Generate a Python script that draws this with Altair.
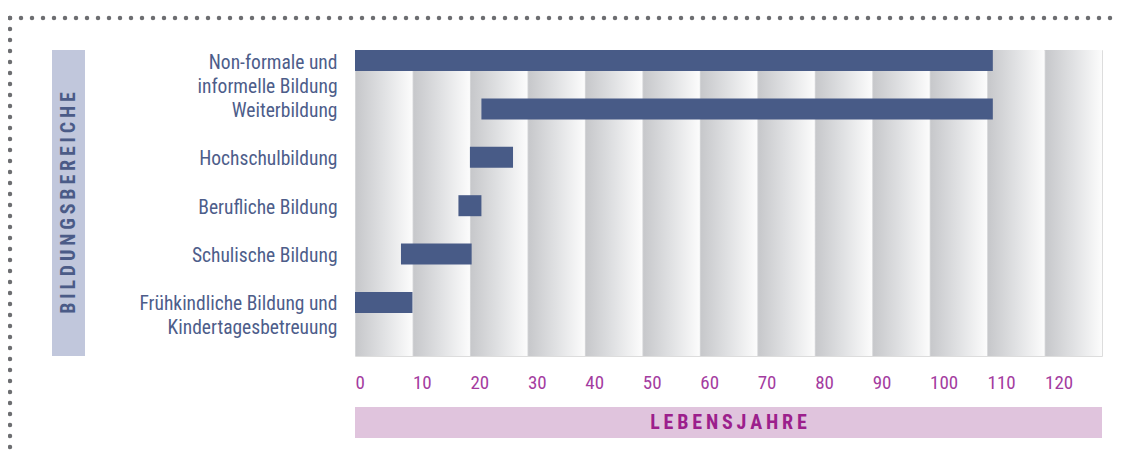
import altair as alt
import pandas as pd

# ---- data -------------------------------------------------------------
categories = [
    "Non-formale und\ninformelle Bildung",
    "Weiterbildung",
    "Hochschulbildung",
    "Berufliche Bildung",
    "Schulische Bildung",
    "Frühkindliche Bildung und\nKindertagesbetreuung",
]
age_start = [0, 22, 20, 18, 8, 0]
age_end = [111, 111, 27.5, 22, 20.3, 10]

tick_values = [0, 10, 20, 30, 40, 50, 60, 70, 80, 90, 100, 110, 120]
band_width_years = 10

y_title = "BILDUNGSBEREICHE"
x_title = "LEBENSJAHRE"

# ---- styling ------------------------------------------------------------
FONT = "Liberation Sans Narrow, Roboto Condensed, Roboto, sans-serif"
W, H = 747, 306
BAR_COLOR = "#485b87"
LABEL_COLOR = "#4d5d8a"
TICK_COLOR = "#a43c9f"
THIN = "\u2009"

bars_df = pd.DataFrame({"cat": categories, "start": age_start, "end": age_end})
bands_df = pd.DataFrame({"start": tick_values,
                         "end": [t + band_width_years for t in tick_values]})
one = pd.DataFrame({"k": [0]})

x_scale = alt.Scale(domain=[0, 130], nice=False, zero=False)
x_axis = alt.Axis(values=tick_values, title=None, ticks=False, domain=False,
                  grid=False, labelAlign="left", labelBaseline="top",
                  labelPadding=17, labelFont=FONT, labelFontSize=19,
                  labelColor=TICK_COLOR)

gradient = alt.LinearGradient(
    gradient="linear", x1=0, x2=1, y1=0, y2=0,
    stops=[alt.GradientStop(offset=0, color="#dcdddf"),
           alt.GradientStop(offset=0.025, color="#c7c8cb"),
           alt.GradientStop(offset=0.5, color="#e0e1e3"),
           alt.GradientStop(offset=1, color="#fcfcfc")],
)

bands = alt.Chart(bands_df).mark_rect(color=gradient).encode(
    x=alt.X("start:Q", scale=x_scale, axis=x_axis),
    x2="end:Q",
    y=alt.value(0),
    y2=alt.value(H),
)

bars = alt.Chart(bars_df).mark_bar(color=BAR_COLOR).encode(
    x=alt.X("start:Q", scale=x_scale, axis=x_axis),
    x2="end:Q",
    y=alt.Y("cat:N", sort=categories,
            scale=alt.Scale(range=[0, 263], paddingInner=0.566, paddingOuter=0),
            axis=alt.Axis(title=None, ticks=False, domain=False, grid=False,
                          labelExpr="split(datum.label, '\\n')",
                          labelBaseline="top", labelOffset=-7,
                          labelPadding=18, labelFont=FONT, labelFontSize=19.5,
                          labelLineHeight=24, labelLimit=0,
                          labelColor=LABEL_COLOR)),
)

left_box = alt.Chart(one).mark_rect(color="#c1c7dc").encode(
    x=alt.value(-303), x2=alt.value(-270), y=alt.value(0), y2=alt.value(H))
left_text = alt.Chart(one).mark_text(
    text=THIN.join(y_title), angle=270, align="center", baseline="middle",
    font=FONT, fontSize=20, fontWeight="bold", color="#4b5b87",
).encode(x=alt.value(-286), y=alt.value(H / 2))

bottom_box = alt.Chart(one).mark_rect(color="#e0c4dd").encode(
    x=alt.value(0), x2=alt.value(W), y=alt.value(357), y2=alt.value(388))
bottom_text = alt.Chart(one).mark_text(
    text=THIN.join(x_title), align="center", baseline="middle",
    font=FONT, fontSize=20, fontWeight="bold", color="#9c1f8c",
).encode(x=alt.value(W / 2), y=alt.value(373))

dot_style = dict(color="#6d6e71", strokeWidth=4.5, strokeCap="round",
                 strokeDash=[0, 11])
top_dots = alt.Chart(one).mark_rule(**dot_style).encode(
    x=alt.value(-345), x2=alt.value(W + 18), y=alt.value(-32))
left_dots = alt.Chart(one).mark_rule(**dot_style).encode(
    x=alt.value(-345), y=alt.value(-32), y2=alt.value(H + 98))

chart = alt.layer(
    bands, bars, left_box, left_text, bottom_box, bottom_text, top_dots, left_dots
).properties(
    width=W, height=H,
    autosize=alt.AutoSizeParams(type="none"),
    padding={"left": 347, "top": 42, "right": 18, "bottom": 98},
).configure_view(stroke=None).configure(background="white")

chart.save("out.html", embed_options={"renderer": "svg", "actions": False})
